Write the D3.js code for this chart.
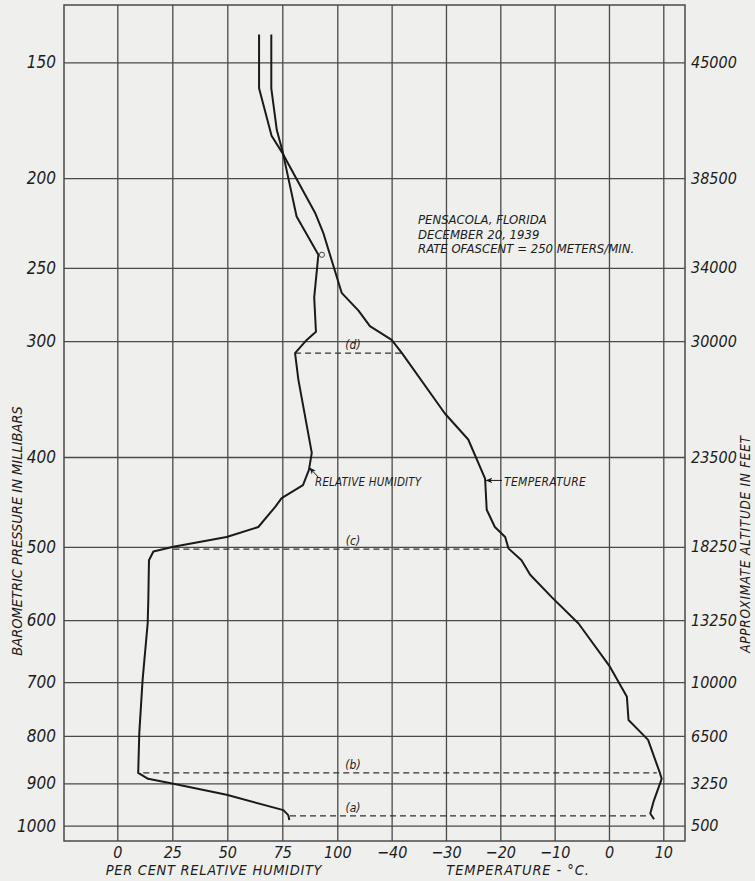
<!DOCTYPE html>
<meta charset="utf-8">
<style>
  body { margin: 0; background: #efefed; }
  svg { display: block; }
  text { font-family: 'Liberation Sans Narrow', 'DejaVu Sans Condensed', 'Liberation Sans', sans-serif; font-style: italic; fill: #1c1c1c; }
</style>
<body>
<svg width="755" height="881"></svg>
<script src="https://cdn.jsdelivr.net/npm/d3@7/dist/d3.min.js"></script>
<script>
  // pressure levels (mb) and the altitude written beside each one
  var presTicks = [150, 200, 250, 300, 400, 500, 600, 700, 800, 900, 1000];
  var altTicks = ['45000', '38500', '34000', '30000', '23500', '18250', '13250', '10000', '6500', '3250', '500'];
  var rhTicks = [0, 25, 50, 75, 100];
  var tempTicks = [-40, -30, -20, -10, 0, 10];

  // relative humidity sounding
  var rhPres = [140, 160, 177.5, 187.5, 220, 242, 269, 293, 299, 309, 330, 396, 413, 429, 443, 453, 476, 488, 500, 506,
                517, 571, 605, 696, 794, 877, 890, 901, 926, 962, 974, 986];
  var rhVals = [70, 70, 72.5, 75.2, 81.5, 91.4, 89.5, 90.3, 86.1, 80.8, 82.3, 88.4, 87.1, 84.4, 74.7, 71.7, 64.1, 49.7, 25.5, 16.4,
                14.4, 14.1, 13.8, 11.5, 10, 9.5, 14, 25.5, 49.7, 75.5, 77.7, 78.2];

  // temperature sounding
  var tPres = [140, 160, 180, 187.5, 196, 218, 229, 266, 278, 289, 299, 309, 359, 383, 422, 456, 476, 488, 502, 517,
               536, 567, 605, 674, 726, 769, 798, 808, 878, 890, 942, 970, 984];
  var tVals = [-64.4, -64.4, -62.1, -60.2, -58.4, -54.1, -52.6, -49.2, -46.1, -44, -40, -38.1, -30.2, -25.9, -22.8, -22.5, -21, -19.1, -18.5, -16.1,
               -14.5, -10.5, -5.6, 0.2, 3.3, 3.6, 6.3, 7.2, 9.4, 9.7, 8.2, 7.6, 8.3];

  // dashed levels (a)..(d): from the humidity curve across to the temperature curve
  var dashNames = ['(a)', '(b)', '(c)', '(d)'];
  var dashPres = [976, 877, 503, 309];
  var dashRH = [78.5, 11.8, 25.5, 80.8];
  var dashT = [7.2, 8.8, -19.5, -38.1];

  var svg = d3.select('svg');
  var x0 = 64, x1 = 685, y0 = 5, y1 = 841;

  var y = d3.scaleLog().domain([150, 1000]).range([62.3, 825.7]);
  var xRH = d3.scaleLinear().domain([0, 100]).range([117.3, 337.3]);
  var xT = d3.scaleLinear().domain([-50, 10]).range([337.3, 663.3]);

  var gridColor = '#4a4a4a';

  // horizontal grid + left labels
  var gl = svg.append('g')
    .attr('transform', 'translate(' + x0 + ',0)')
    .call(d3.axisLeft(y).tickValues(presTicks).tickSize(-(x1 - x0)).tickPadding(8).tickFormat(d3.format('d')));
  gl.select('.domain').remove();
  gl.selectAll('line').attr('stroke', gridColor).attr('stroke-width', 1.3);
  gl.selectAll('text').attr('font-size', 17).attr('fill', '#1c1c1c').attr('font-family', null);

  // right labels
  var gr = svg.append('g')
    .attr('transform', 'translate(' + x1 + ',0)')
    .call(d3.axisRight(y).tickValues(presTicks).tickSize(0).tickPadding(6).tickFormat(function (d, i) { return altTicks[i]; }));
  gr.select('.domain').remove();
  gr.selectAll('text').attr('font-size', 16).attr('fill', '#1c1c1c').attr('font-family', null);

  // vertical grid + bottom labels
  [[xRH, rhTicks], [xT, tempTicks]].forEach(function (s) {
    var gb = svg.append('g')
      .attr('transform', 'translate(0,' + y1 + ')')
      .call(d3.axisBottom(s[0]).tickValues(s[1]).tickSize(-(y1 - y0)).tickPadding(6).tickFormat(d3.format('d')));
    gb.select('.domain').remove();
    gb.selectAll('line').attr('stroke', gridColor).attr('stroke-width', 1.3);
    gb.selectAll('text').attr('font-size', 16).attr('fill', '#1c1c1c').attr('font-family', null);
  });

  // frame
  svg.append('rect')
    .attr('x', x0).attr('y', y0)
    .attr('width', x1 - x0).attr('height', y1 - y0)
    .attr('fill', 'none').attr('stroke', gridColor).attr('stroke-width', 1.5);

  // dashed levels
  var dash = svg.append('g');
  dashPres.forEach(function (p, i) {
    dash.append('line')
      .attr('x1', xRH(dashRH[i])).attr('x2', xT(dashT[i]))
      .attr('y1', y(p)).attr('y2', y(p))
      .attr('stroke', '#333').attr('stroke-width', 1.2)
      .attr('stroke-dasharray', '6 4');
    dash.append('text')
      .attr('x', 353).attr('y', y(p) - 4)
      .attr('text-anchor', 'middle')
      .attr('font-size', 12)
      .text(dashNames[i]);
  });

  // curves
  var lineRH = d3.line().x(function (d) { return xRH(d[1]); }).y(function (d) { return y(d[0]); });
  var lineT = d3.line().x(function (d) { return xT(d[1]); }).y(function (d) { return y(d[0]); });

  svg.append('path')
    .attr('d', lineRH(d3.zip(rhPres, rhVals)))
    .attr('fill', 'none').attr('stroke', '#1a1a1a').attr('stroke-width', 2).attr('stroke-linejoin', 'round');
  svg.append('path')
    .attr('d', lineT(d3.zip(tPres, tVals)))
    .attr('fill', 'none').attr('stroke', '#1a1a1a').attr('stroke-width', 2).attr('stroke-linejoin', 'round');

  // little circle on the humidity curve
  svg.append('circle')
    .attr('cx', xRH(93)).attr('cy', y(242)).attr('r', 2.6)
    .attr('fill', 'none').attr('stroke', '#444').attr('stroke-width', 1);

  // arrows and curve labels
  var marker = svg.append('defs').append('marker')
    .attr('id', 'arrowhead')
    .attr('viewBox', '0 0 10 10')
    .attr('refX', 9).attr('refY', 5)
    .attr('markerWidth', 7).attr('markerHeight', 7)
    .attr('orient', 'auto');
  marker.append('path').attr('d', 'M0,1 L10,5 L0,9 L3,5 Z').attr('fill', '#1a1a1a');

  svg.append('line')
    .attr('x1', 318).attr('y1', 477).attr('x2', xRH(87.5)).attr('y2', y(411))
    .attr('stroke', '#1a1a1a').attr('stroke-width', 1).attr('marker-end', 'url(#arrowhead)');
  svg.append('text').attr('x', 315).attr('y', 486).attr('font-size', 11.5).attr('letter-spacing', 0.2).text('RELATIVE HUMIDITY');

  svg.append('line')
    .attr('x1', 502).attr('y1', y(424)).attr('x2', xT(-22.6)).attr('y2', y(424))
    .attr('stroke', '#1a1a1a').attr('stroke-width', 1).attr('marker-end', 'url(#arrowhead)');
  svg.append('text').attr('x', 504).attr('y', 486).attr('font-size', 12).attr('letter-spacing', 0.3).text('TEMPERATURE');

  // station note
  var note = ['PENSACOLA, FLORIDA', 'DECEMBER 20, 1939', 'RATE OFASCENT = 250 METERS/MIN.'];
  svg.append('g').selectAll('text').data(note).enter().append('text')
    .attr('x', 418).attr('y', function (d, i) { return 224 + i * 14.5; })
    .attr('font-size', 13)
    .text(function (d) { return d; });

  // axis titles
  svg.append('text')
    .attr('transform', 'translate(22,531) rotate(-90)')
    .attr('text-anchor', 'middle').attr('font-size', 14.5).attr('letter-spacing', 0)
    .text('BAROMETRIC PRESSURE IN MILLIBARS');
  svg.append('text')
    .attr('transform', 'translate(750,544) rotate(-90)')
    .attr('text-anchor', 'middle').attr('font-size', 13.5).attr('letter-spacing', 0.7)
    .text('APPROXIMATE ALTITUDE IN FEET');
  svg.append('text')
    .attr('x', 214).attr('y', 875)
    .attr('text-anchor', 'middle').attr('font-size', 14.5).attr('letter-spacing', 0.7)
    .text('PER CENT RELATIVE HUMIDITY');
  svg.append('text')
    .attr('x', 518).attr('y', 875)
    .attr('text-anchor', 'middle').attr('font-size', 14.5).attr('letter-spacing', 0.9)
    .text('TEMPERATURE - °C.');
</script>
</body>
